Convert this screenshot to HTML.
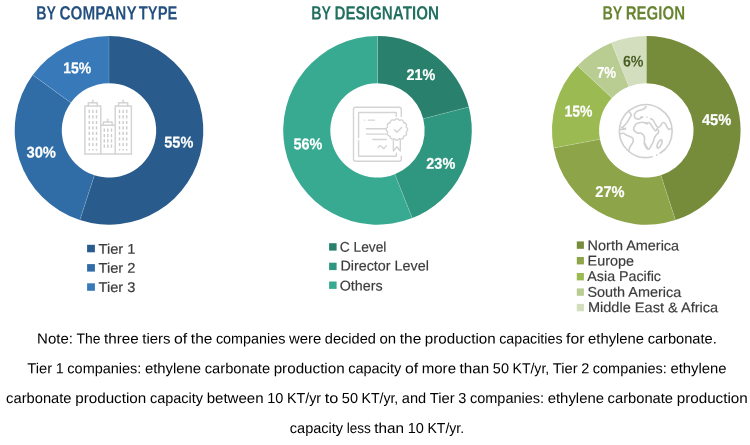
<!DOCTYPE html>
<html><head><meta charset="utf-8"><title>Breakdown of primaries</title>
<style>
html,body{margin:0;padding:0;background:#fff;}
svg{display:block;font-family:"Liberation Sans",sans-serif;}
</style></head><body>
<svg width="750" height="445" viewBox="0 0 750 445" text-rendering="geometricPrecision">
<rect width="750" height="445" fill="#ffffff"/>
<g shape-rendering="geometricPrecision">
<path d="M109.00 36.10A94.3 94.3 0 1 1 79.86 220.08L94.41 175.29A47.2 47.2 0 1 0 109.00 83.20Z" fill="#295C8C"/>
<path d="M79.86 220.08A94.3 94.3 0 0 1 32.71 74.97L70.81 102.66A47.2 47.2 0 0 0 94.41 175.29Z" fill="#306CA5"/>
<path d="M32.71 74.97A94.3 94.3 0 0 1 109.00 36.10L109.00 83.20A47.2 47.2 0 0 0 70.81 102.66Z" fill="#387AB9"/>
<line x1="109.00" y1="83.20" x2="109.00" y2="36.10" stroke="#ffffff" stroke-opacity="0.28" stroke-width="0.6"/>
<line x1="94.41" y1="175.29" x2="79.86" y2="220.08" stroke="#ffffff" stroke-opacity="0.28" stroke-width="0.6"/>
<line x1="70.81" y1="102.66" x2="32.71" y2="74.97" stroke="#ffffff" stroke-opacity="0.28" stroke-width="0.6"/>
<path d="M377.50 36.10A94.3 94.3 0 0 1 468.84 106.95L423.22 118.66A47.2 47.2 0 0 0 377.50 83.20Z" fill="#28806D"/>
<path d="M468.84 106.95A94.3 94.3 0 0 1 412.21 218.08L394.88 174.29A47.2 47.2 0 0 0 423.22 118.66Z" fill="#2F9780"/>
<path d="M412.21 218.08A94.3 94.3 0 1 1 377.50 36.10L377.50 83.20A47.2 47.2 0 1 0 394.88 174.29Z" fill="#39AA92"/>
<line x1="377.50" y1="83.20" x2="377.50" y2="36.10" stroke="#ffffff" stroke-opacity="0.28" stroke-width="0.6"/>
<line x1="423.22" y1="118.66" x2="468.84" y2="106.95" stroke="#ffffff" stroke-opacity="0.28" stroke-width="0.6"/>
<line x1="394.88" y1="174.29" x2="412.21" y2="218.08" stroke="#ffffff" stroke-opacity="0.28" stroke-width="0.6"/>
<path d="M646.30 36.10A94.3 94.3 0 0 1 675.44 220.08L660.89 175.29A47.2 47.2 0 0 0 646.30 83.20Z" fill="#768C3B"/>
<path d="M675.44 220.08A94.3 94.3 0 0 1 553.67 148.07L599.94 139.24A47.2 47.2 0 0 0 660.89 175.29Z" fill="#8DA449"/>
<path d="M553.67 148.07A94.3 94.3 0 0 1 577.56 65.85L611.89 98.09A47.2 47.2 0 0 0 599.94 139.24Z" fill="#9BBA52"/>
<path d="M577.56 65.85A94.3 94.3 0 0 1 611.59 42.72L628.92 86.51A47.2 47.2 0 0 0 611.89 98.09Z" fill="#B9CD92"/>
<path d="M611.59 42.72A94.3 94.3 0 0 1 646.30 36.10L646.30 83.20A47.2 47.2 0 0 0 628.92 86.51Z" fill="#D2DEBD"/>
<line x1="646.30" y1="83.20" x2="646.30" y2="36.10" stroke="#ffffff" stroke-opacity="0.28" stroke-width="0.6"/>
<line x1="660.89" y1="175.29" x2="675.44" y2="220.08" stroke="#ffffff" stroke-opacity="0.28" stroke-width="0.6"/>
<line x1="599.94" y1="139.24" x2="553.67" y2="148.07" stroke="#ffffff" stroke-opacity="0.28" stroke-width="0.6"/>
<line x1="611.89" y1="98.09" x2="577.56" y2="65.85" stroke="#ffffff" stroke-opacity="0.28" stroke-width="0.6"/>
<line x1="628.92" y1="86.51" x2="611.59" y2="42.72" stroke="#ffffff" stroke-opacity="0.28" stroke-width="0.6"/>
</g>
<text transform="translate(36.25 19.45) rotate(0.06)" font-size="19.19" font-weight="bold" fill="#24507F" textLength="19.78" lengthAdjust="spacingAndGlyphs">BY</text>
<text transform="translate(59.47 19.45) rotate(0.06)" font-size="19.19" font-weight="bold" fill="#24507F" textLength="77.18" lengthAdjust="spacingAndGlyphs">COMPANY</text>
<text transform="translate(138.83 19.45) rotate(0.06)" font-size="19.19" font-weight="bold" fill="#24507F" textLength="38.54" lengthAdjust="spacingAndGlyphs">TYPE</text>
<text transform="translate(311.24 19.45) rotate(0.06)" font-size="19.19" font-weight="bold" fill="#227060" textLength="19.89" lengthAdjust="spacingAndGlyphs">BY</text>
<text transform="translate(334.48 19.45) rotate(0.06)" font-size="19.19" font-weight="bold" fill="#227060" textLength="104.54" lengthAdjust="spacingAndGlyphs">DESIGNATION</text>
<text transform="translate(602.44 19.45) rotate(0.06)" font-size="19.19" font-weight="bold" fill="#678530" textLength="19.99" lengthAdjust="spacingAndGlyphs">BY</text>
<text transform="translate(625.69 19.45) rotate(0.06)" font-size="19.19" font-weight="bold" fill="#678530" textLength="59.32" lengthAdjust="spacingAndGlyphs">REGION</text>
<text transform="translate(164.25 147.40) rotate(0.06)" font-size="15.55" font-weight="bold" fill="#ffffff" stroke="#ffffff" stroke-width="0.2" textLength="29.03" lengthAdjust="spacingAndGlyphs">55%</text>
<text transform="translate(26.46 157.60) rotate(0.06)" font-size="15.55" font-weight="bold" fill="#ffffff" stroke="#ffffff" stroke-width="0.2" textLength="29.53" lengthAdjust="spacingAndGlyphs">30%</text>
<text transform="translate(63.32 73.20) rotate(0.06)" font-size="15.55" font-weight="bold" fill="#ffffff" stroke="#ffffff" stroke-width="0.2" textLength="27.95" lengthAdjust="spacingAndGlyphs">15%</text>
<text transform="translate(406.50 79.90) rotate(0.06)" font-size="15.55" font-weight="bold" fill="#ffffff" stroke="#ffffff" stroke-width="0.2" textLength="28.78" lengthAdjust="spacingAndGlyphs">21%</text>
<text transform="translate(426.30 168.80) rotate(0.06)" font-size="15.55" font-weight="bold" fill="#ffffff" stroke="#ffffff" stroke-width="0.2" textLength="28.98" lengthAdjust="spacingAndGlyphs">23%</text>
<text transform="translate(293.56 149.20) rotate(0.06)" font-size="15.55" font-weight="bold" fill="#ffffff" stroke="#ffffff" stroke-width="0.2" textLength="28.82" lengthAdjust="spacingAndGlyphs">56%</text>
<text transform="translate(701.88 125.00) rotate(0.06)" font-size="15.55" font-weight="bold" fill="#ffffff" stroke="#ffffff" stroke-width="0.2" textLength="29.41" lengthAdjust="spacingAndGlyphs">45%</text>
<text transform="translate(595.29 197.10) rotate(0.06)" font-size="15.55" font-weight="bold" fill="#ffffff" stroke="#ffffff" stroke-width="0.2" textLength="29.29" lengthAdjust="spacingAndGlyphs">27%</text>
<text transform="translate(564.42 116.60) rotate(0.06)" font-size="15.55" font-weight="bold" fill="#ffffff" stroke="#ffffff" stroke-width="0.2" textLength="27.95" lengthAdjust="spacingAndGlyphs">15%</text>
<text transform="translate(596.93 77.70) rotate(0.06)" font-size="15.55" font-weight="bold" fill="#ffffff" stroke="#ffffff" stroke-width="0.2" textLength="19.12" lengthAdjust="spacingAndGlyphs">7%</text>
<text transform="translate(622.88 66.60) rotate(0.06)" font-size="15.55" font-weight="bold" fill="#4A5E23" stroke="#4A5E23" stroke-width="0" textLength="20.60" lengthAdjust="spacingAndGlyphs">6%</text>
<rect x="87.1" y="244.8" width="7.8" height="7.5" fill="#295C8C"/>
<text transform="translate(98.47 253.70) rotate(0.06)" font-size="14.10" fill="#3c3c3c" stroke="#3c3c3c" stroke-width="0.18" textLength="37.05" lengthAdjust="spacingAndGlyphs">Tier 1</text>
<rect x="87.1" y="264.1" width="7.8" height="7.5" fill="#306CA5"/>
<text transform="translate(98.47 272.80) rotate(0.06)" font-size="14.10" fill="#3c3c3c" stroke="#3c3c3c" stroke-width="0.18" textLength="37.07" lengthAdjust="spacingAndGlyphs">Tier 2</text>
<rect x="87.1" y="283.3" width="7.8" height="7.5" fill="#387AB9"/>
<text transform="translate(98.47 291.90) rotate(0.06)" font-size="14.10" fill="#3c3c3c" stroke="#3c3c3c" stroke-width="0.18" textLength="36.97" lengthAdjust="spacingAndGlyphs">Tier 3</text>
<rect x="329.1" y="243.2" width="7.5" height="7.4" fill="#28806D"/>
<text transform="translate(339.70 251.80) rotate(0.06)" font-size="14.10" fill="#3c3c3c" stroke="#3c3c3c" stroke-width="0.18" textLength="46.72" lengthAdjust="spacingAndGlyphs">C Level</text>
<rect x="329.1" y="262.7" width="7.5" height="7.4" fill="#2F9780"/>
<text transform="translate(340.42 270.50) rotate(0.06)" font-size="14.10" fill="#3c3c3c" stroke="#3c3c3c" stroke-width="0.18" textLength="88.43" lengthAdjust="spacingAndGlyphs">Director Level</text>
<rect x="329.1" y="281.5" width="7.5" height="7.4" fill="#39AA92"/>
<text transform="translate(339.72 290.50) rotate(0.06)" font-size="14.10" fill="#3c3c3c" stroke="#3c3c3c" stroke-width="0.18" textLength="42.89" lengthAdjust="spacingAndGlyphs">Others</text>
<rect x="576.8" y="241.4" width="7.1" height="7.4" fill="#768C3B"/>
<text transform="translate(587.62 250.30) rotate(0.06)" font-size="14.10" fill="#3c3c3c" stroke="#3c3c3c" stroke-width="0.18" textLength="91.48" lengthAdjust="spacingAndGlyphs">North America</text>
<rect x="576.8" y="257.0" width="7.1" height="7.4" fill="#8DA449"/>
<text transform="translate(587.62 265.60) rotate(0.06)" font-size="14.10" fill="#3c3c3c" stroke="#3c3c3c" stroke-width="0.18" textLength="46.32" lengthAdjust="spacingAndGlyphs">Europe</text>
<rect x="576.8" y="273.0" width="7.1" height="7.4" fill="#9BBA52"/>
<text transform="translate(587.37 281.00) rotate(0.06)" font-size="14.10" fill="#3c3c3c" stroke="#3c3c3c" stroke-width="0.18" textLength="73.60" lengthAdjust="spacingAndGlyphs">Asia Pacific</text>
<rect x="576.8" y="288.4" width="7.1" height="7.4" fill="#B9CD92"/>
<text transform="translate(587.44 296.80) rotate(0.06)" font-size="14.10" fill="#3c3c3c" stroke="#3c3c3c" stroke-width="0.18" textLength="93.86" lengthAdjust="spacingAndGlyphs">South America</text>
<rect x="576.8" y="303.9" width="7.1" height="7.4" fill="#D2DEBD"/>
<text transform="translate(587.91 312.10) rotate(0.06)" font-size="14.10" fill="#3c3c3c" stroke="#3c3c3c" stroke-width="0.18" textLength="130.29" lengthAdjust="spacingAndGlyphs">Middle East &amp; Africa</text>
<g font-size="14.5" fill="#000000">
<text transform="translate(37.12 343.50) rotate(0.06)" textLength="35.83" lengthAdjust="spacingAndGlyphs">Note:</text>
<text transform="translate(76.53 343.50) rotate(0.06)" textLength="23.92" lengthAdjust="spacingAndGlyphs">The</text>
<text transform="translate(104.04 343.50) rotate(0.06)" textLength="34.70" lengthAdjust="spacingAndGlyphs">three</text>
<text transform="translate(142.32 343.50) rotate(0.06)" textLength="28.15" lengthAdjust="spacingAndGlyphs">tiers</text>
<text transform="translate(174.06 343.50) rotate(0.06)" textLength="13.19" lengthAdjust="spacingAndGlyphs">of</text>
<text transform="translate(190.83 343.50) rotate(0.06)" textLength="21.51" lengthAdjust="spacingAndGlyphs">the</text>
<text transform="translate(215.92 343.50) rotate(0.06)" textLength="69.52" lengthAdjust="spacingAndGlyphs">companies</text>
<text transform="translate(289.01 343.50) rotate(0.06)" textLength="32.26" lengthAdjust="spacingAndGlyphs">were</text>
<text transform="translate(324.85 343.50) rotate(0.06)" textLength="51.06" lengthAdjust="spacingAndGlyphs">decided</text>
<text transform="translate(379.50 343.50) rotate(0.06)" textLength="16.68" lengthAdjust="spacingAndGlyphs">on</text>
<text transform="translate(399.76 343.50) rotate(0.06)" textLength="21.51" lengthAdjust="spacingAndGlyphs">the</text>
<text transform="translate(424.85 343.50) rotate(0.06)" textLength="70.79" lengthAdjust="spacingAndGlyphs">production</text>
<text transform="translate(499.21 343.50) rotate(0.06)" textLength="63.30" lengthAdjust="spacingAndGlyphs">capacities</text>
<text transform="translate(566.09 343.50) rotate(0.06)" textLength="18.38" lengthAdjust="spacingAndGlyphs">for</text>
<text transform="translate(588.05 343.50) rotate(0.06)" textLength="56.02" lengthAdjust="spacingAndGlyphs">ethylene</text>
<text transform="translate(647.65 343.50) rotate(0.06)" textLength="69.13" lengthAdjust="spacingAndGlyphs">carbonate.</text>
</g>
<g font-size="14.5" fill="#000000">
<text transform="translate(27.28 373.30) rotate(0.06)" textLength="24.84" lengthAdjust="spacingAndGlyphs">Tier</text>
<text transform="translate(55.71 373.30) rotate(0.06)" textLength="8.05" lengthAdjust="spacingAndGlyphs">1</text>
<text transform="translate(67.36 373.30) rotate(0.06)" textLength="73.99" lengthAdjust="spacingAndGlyphs">companies:</text>
<text transform="translate(144.94 373.30) rotate(0.06)" textLength="56.20" lengthAdjust="spacingAndGlyphs">ethylene</text>
<text transform="translate(204.73 373.30) rotate(0.06)" textLength="65.34" lengthAdjust="spacingAndGlyphs">carbonate</text>
<text transform="translate(273.66 373.30) rotate(0.06)" textLength="71.01" lengthAdjust="spacingAndGlyphs">production</text>
<text transform="translate(348.26 373.30) rotate(0.06)" textLength="53.04" lengthAdjust="spacingAndGlyphs">capacity</text>
<text transform="translate(404.89 373.30) rotate(0.06)" textLength="13.23" lengthAdjust="spacingAndGlyphs">of</text>
<text transform="translate(421.71 373.30) rotate(0.06)" textLength="34.31" lengthAdjust="spacingAndGlyphs">more</text>
<text transform="translate(459.61 373.30) rotate(0.06)" textLength="29.63" lengthAdjust="spacingAndGlyphs">than</text>
<text transform="translate(492.84 373.30) rotate(0.06)" textLength="16.11" lengthAdjust="spacingAndGlyphs">50</text>
<text transform="translate(512.54 373.30) rotate(0.06)" textLength="36.64" lengthAdjust="spacingAndGlyphs">KT/yr,</text>
<text transform="translate(552.77 373.30) rotate(0.06)" textLength="24.84" lengthAdjust="spacingAndGlyphs">Tier</text>
<text transform="translate(581.19 373.30) rotate(0.06)" textLength="8.05" lengthAdjust="spacingAndGlyphs">2</text>
<text transform="translate(592.84 373.30) rotate(0.06)" textLength="73.99" lengthAdjust="spacingAndGlyphs">companies:</text>
<text transform="translate(670.42 373.30) rotate(0.06)" textLength="56.20" lengthAdjust="spacingAndGlyphs">ethylene</text>
</g>
<g font-size="14.5" fill="#000000">
<text transform="translate(6.10 402.90) rotate(0.06)" textLength="65.46" lengthAdjust="spacingAndGlyphs">carbonate</text>
<text transform="translate(75.16 402.90) rotate(0.06)" textLength="71.14" lengthAdjust="spacingAndGlyphs">production</text>
<text transform="translate(149.90 402.90) rotate(0.06)" textLength="53.14" lengthAdjust="spacingAndGlyphs">capacity</text>
<text transform="translate(206.64 402.90) rotate(0.06)" textLength="56.98" lengthAdjust="spacingAndGlyphs">between</text>
<text transform="translate(267.22 402.90) rotate(0.06)" textLength="16.14" lengthAdjust="spacingAndGlyphs">10</text>
<text transform="translate(286.95 402.90) rotate(0.06)" textLength="34.10" lengthAdjust="spacingAndGlyphs">KT/yr</text>
<text transform="translate(324.65 402.90) rotate(0.06)" textLength="13.57" lengthAdjust="spacingAndGlyphs">to</text>
<text transform="translate(341.83 402.90) rotate(0.06)" textLength="16.14" lengthAdjust="spacingAndGlyphs">50</text>
<text transform="translate(361.56 402.90) rotate(0.06)" textLength="36.71" lengthAdjust="spacingAndGlyphs">KT/yr,</text>
<text transform="translate(401.87 402.90) rotate(0.06)" textLength="24.35" lengthAdjust="spacingAndGlyphs">and</text>
<text transform="translate(429.82 402.90) rotate(0.06)" textLength="24.88" lengthAdjust="spacingAndGlyphs">Tier</text>
<text transform="translate(458.30 402.90) rotate(0.06)" textLength="8.07" lengthAdjust="spacingAndGlyphs">3</text>
<text transform="translate(469.97 402.90) rotate(0.06)" textLength="74.13" lengthAdjust="spacingAndGlyphs">companies:</text>
<text transform="translate(547.70 402.90) rotate(0.06)" textLength="56.30" lengthAdjust="spacingAndGlyphs">ethylene</text>
<text transform="translate(607.60 402.90) rotate(0.06)" textLength="65.46" lengthAdjust="spacingAndGlyphs">carbonate</text>
<text transform="translate(676.66 402.90) rotate(0.06)" textLength="71.14" lengthAdjust="spacingAndGlyphs">production</text>
</g>
<g font-size="14.5" fill="#000000">
<text transform="translate(289.83 433.00) rotate(0.06)" textLength="53.24" lengthAdjust="spacingAndGlyphs">capacity</text>
<text transform="translate(346.68 433.00) rotate(0.06)" textLength="24.07" lengthAdjust="spacingAndGlyphs">less</text>
<text transform="translate(374.36 433.00) rotate(0.06)" textLength="29.74" lengthAdjust="spacingAndGlyphs">than</text>
<text transform="translate(407.71 433.00) rotate(0.06)" textLength="16.17" lengthAdjust="spacingAndGlyphs">10</text>
<text transform="translate(427.48 433.00) rotate(0.06)" textLength="36.59" lengthAdjust="spacingAndGlyphs">KT/yr.</text>
</g>
<g fill="none" stroke="#d3d3d3" stroke-width="1.45" stroke-linejoin="round" stroke-linecap="round">
<path d="M84.9 153.9V106H100.8V153.9"/>
<path d="M88.3 106V102.8H97.3V106"/>
<path d="M92.9 102.8V100.2"/>
<path d="M115.2 153.9V106H131.4V153.9"/>
<path d="M118.6 106V102.8H127.7V106"/>
<path d="M123.1 102.8V100.2"/>
<path d="M100.8 125.3H115.2"/>
<path d="M103.4 125.3V121.9H112.1V125.3"/>
<path d="M107.7 121.9V119.2"/>
<path d="M84.9 153.9H131.4"/>
</g>
<g stroke="#cccccc" stroke-width="1.4" stroke-linecap="butt">
<path d="M89.3 109.7V112.9M89.3 115.3V118.5M89.3 120.9V124.1M89.3 126.3V129.5M89.3 131.8V135.0M89.3 137.4V140.6M89.3 142.9V146.1M89.3 148.9V150.6"/>
<path d="M92.9 109.7V112.9M92.9 115.3V118.5M92.9 120.9V124.1M92.9 126.3V129.5M92.9 131.8V135.0M92.9 137.4V140.6M92.9 142.9V146.1M92.9 148.9V150.6"/>
<path d="M96.5 109.7V112.9M96.5 115.3V118.5M96.5 120.9V124.1M96.5 126.3V129.5M96.5 131.8V135.0M96.5 137.4V140.6M96.5 142.9V146.1M96.5 148.9V150.6"/>
<path d="M119.5 109.7V112.9M119.5 115.3V118.5M119.5 120.9V124.1M119.5 126.3V129.5M119.5 131.8V135.0M119.5 137.4V140.6M119.5 142.9V146.1M119.5 148.9V150.6"/>
<path d="M123.1 109.7V112.9M123.1 115.3V118.5M123.1 120.9V124.1M123.1 126.3V129.5M123.1 131.8V135.0M123.1 137.4V140.6M123.1 142.9V146.1M123.1 148.9V150.6"/>
<path d="M126.7 109.7V112.9M126.7 115.3V118.5M126.7 120.9V124.1M126.7 126.3V129.5M126.7 131.8V135.0M126.7 137.4V140.6M126.7 142.9V146.1M126.7 148.9V150.6"/>
<path d="M104.3 128.6V131.8M104.3 134.1V137.3M104.3 139.3V142.5M104.3 144.6V147.8"/>
<path d="M107.8 128.6V131.8M107.8 134.1V137.3M107.8 139.3V142.5M107.8 144.6V147.8"/>
<path d="M111.5 128.6V131.8M111.5 134.1V137.3M111.5 139.3V142.5M111.5 144.6V147.8"/>
</g>
<g fill="none" stroke="#d4d4d4" stroke-width="1.4" stroke-linejoin="round" stroke-linecap="round">
<path d="M401.3 116.6V109.3Q401.3 107.3 399.3 107.3H355.5Q353.5 107.3 353.5 109.3V159.3Q353.5 161.3 355.5 161.3H399.3Q401.3 161.3 401.3 159.3V156.2"/>
<path d="M396.2 116.4V112.5H358.6V137.6M358.6 140.8V156.2H396.4V153.2"/>
<path d="M364.4 120.1H364.7M368.3 120.1H374.5M366.3 128.7H385.6M366.3 134.1H386M372.8 139.5H386.2"/>
<path d="M378.3 147.6Q379.4 145.4 380.6 145.9T382.9 148T386.3 145.5"/>
<path d="M394.42 120.23Q396.90 117.20 399.38 120.23Q403.05 118.85 403.69 122.71Q407.55 123.35 406.17 127.02Q409.20 129.50 406.17 131.98Q407.55 135.65 403.69 136.29Q403.05 140.15 399.38 138.77Q396.90 141.80 394.42 138.77Q390.75 140.15 390.11 136.29Q386.25 135.65 387.63 131.98Q384.60 129.50 387.63 127.02Q386.25 123.35 390.11 122.71Q390.75 118.85 394.42 120.23Z" fill="#ffffff"/>
<path d="M394.4 129.8L397 132.3L401.6 127.6"/>
<path d="M393.4 140.2V151L396.9 146.7L400.3 151V140.2"/>
</g>
<g fill="none" stroke="#d0d0d0" stroke-width="1.6" stroke-linejoin="round" stroke-linecap="round">
<path d="M660.13 153.24A26.4 26.4 0 1 0 652.14 156.72"/>
<path d="M656.70 155.12l0.3 -0.15"/>
<path d="M633.6 129.4C633.6 128.4 634.3 126.3 635.1 125.2C635.9 124.2 637.0 123.6 638.2 123.1C639.3 122.6 640.8 122.2 642.0 122.2C643.2 122.1 644.5 122.6 645.4 122.9C646.3 123.2 647.6 123.8 647.3 123.8C647.1 123.8 644.2 123.0 644.0 122.9C643.8 122.8 645.5 123.4 646.3 123.4C647.1 123.3 647.8 122.4 648.6 122.6C649.3 122.8 650.2 123.6 650.9 124.4C651.6 125.3 652.0 126.5 652.8 127.5C653.5 128.5 654.7 130.5 655.5 130.7C656.2 130.9 656.7 129.0 657.1 128.9C657.6 128.9 658.1 129.8 658.3 130.4C658.5 131.1 658.9 131.8 658.5 132.6C658.2 133.3 656.9 134.1 656.2 135.0C655.5 135.9 654.8 137.0 654.3 138.1C653.8 139.2 653.7 140.5 653.2 141.8C652.7 143.0 652.0 144.4 651.3 145.6C650.6 146.8 649.7 148.5 649.0 149.0C648.3 149.5 647.6 149.1 647.1 148.6C646.5 148.2 646.0 147.2 645.5 146.3C645.0 145.4 643.9 143.0 644.2 143.3C644.5 143.5 647.1 147.6 647.3 147.9C647.5 148.1 645.9 145.8 645.4 144.8C644.9 143.8 644.4 142.8 644.3 141.8C644.1 140.7 644.8 139.8 644.6 138.7C644.5 137.6 644.1 136.1 643.5 135.3C642.9 134.4 642.2 133.7 641.2 133.3C640.2 133.0 638.5 133.3 637.4 133.0C636.3 132.6 635.4 131.6 634.7 131.1C634.1 130.5 633.5 130.4 633.6 129.4Z"/>
<path d="M645.9 106.4C645.7 106.7 645.3 107.8 644.6 108.4C644.0 109.0 643.1 109.4 642.0 109.8C640.9 110.2 639.2 110.4 638.2 110.8C637.1 111.3 636.1 111.9 635.5 112.6C634.8 113.3 634.4 114.4 634.3 115.3C634.3 116.1 634.5 117.1 635.1 117.7C635.7 118.4 636.9 118.9 637.8 119.1C638.7 119.3 639.8 118.9 640.4 118.6C641.1 118.3 641.6 117.5 641.8 117.3"/>
<path d="M640.6 117.3C641.0 117.2 642.5 117.1 642.9 117.1"/>
<path d="M646.90 117.19l0.1 0"/>
<path d="M650.5 118.7C650.9 119.0 652.5 119.5 653.2 120.2C653.9 120.9 654.1 122.0 654.7 122.9C655.3 123.9 656.0 125.2 656.6 126.0C657.2 126.7 657.7 127.5 658.4 127.5C659.0 127.5 659.8 126.7 660.4 126.0C661.0 125.3 661.4 123.9 662.0 123.3C662.5 122.7 663.2 122.3 663.9 122.5C664.5 122.7 665.2 123.6 665.8 124.4C666.3 125.3 666.8 126.7 667.3 127.5C667.8 128.3 668.3 129.2 668.8 129.4C669.3 129.6 669.9 128.9 670.4 128.7C670.8 128.6 671.4 128.5 671.7 128.4"/>
<path d="M628.8 111.5C629.2 112.0 631.2 113.5 631.3 114.7C631.4 115.8 630.1 117.0 629.4 118.3C628.6 119.7 627.7 121.6 626.7 122.9C625.7 124.3 624.5 125.6 623.6 126.4C622.8 127.1 622.1 127.3 621.8 127.5"/>
<path d="M621.8 127.5C622.4 127.8 624.7 128.9 625.3 129.2"/>
<path d="M625.5 128.2C625.3 128.3 625.1 129.0 624.3 129.2C623.4 129.5 621.2 129.5 620.6 129.5"/>
<path d="M620.2 133.7C620.8 133.7 622.6 133.1 623.6 133.3C624.7 133.6 625.6 134.7 626.7 135.3C627.8 135.8 629.2 136.3 630.1 136.8C631.1 137.2 631.9 137.3 632.4 137.9C632.9 138.6 633.3 139.7 633.3 140.6C633.3 141.5 632.9 142.4 632.4 143.3C632.0 144.2 631.0 145.1 630.5 146.0C630.0 146.8 629.7 147.8 629.4 148.6C629.2 149.5 628.9 150.7 628.8 151.1"/>
<path d="M661.3 139.6C661.9 139.5 662.1 141.0 662.0 142.1C661.9 143.1 661.3 144.7 660.7 145.7C660.0 146.8 658.7 148.2 658.1 148.3C657.4 148.4 657.0 147.3 657.0 146.3C657.0 145.4 657.5 143.6 658.2 142.5C658.9 141.4 660.6 139.7 661.3 139.6Z"/>
</g>
</svg>
</body></html>
